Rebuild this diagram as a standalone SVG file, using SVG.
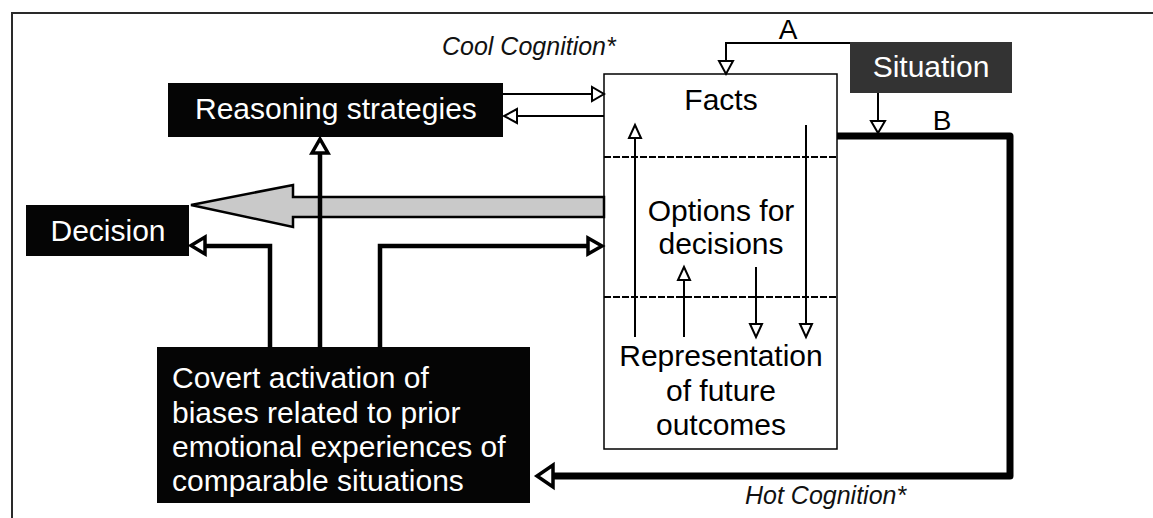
<svg xmlns="http://www.w3.org/2000/svg" width="1153" height="518" viewBox="0 0 1153 518">
<style>
.frame{stroke:#2a2a2a;stroke-width:2;fill:none}
.dark{fill:#050505}
.sit{fill:#333333}
.box{fill:#ffffff;stroke:#000;stroke-width:1.5}
.dash{stroke:#000;stroke-width:2;stroke-dasharray:7 2;fill:none}
.w{font-family:"Liberation Sans",Arial,sans-serif;font-size:30px;fill:#ffffff}
.b{font-family:"Liberation Sans",Arial,sans-serif;font-size:30px;fill:#000000}
.it{font-family:"Liberation Sans",Arial,sans-serif;font-size:25px;font-style:italic;fill:#111}
.ab{font-family:"Liberation Sans",Arial,sans-serif;font-size:28px;fill:#000}
.thin{stroke:#000;stroke-width:2;fill:none}
.med{stroke:#000;stroke-width:4.5;fill:none}
.thick{stroke:#000;stroke-width:7;fill:none;stroke-linejoin:round}
.head{fill:#fff;stroke:#000;stroke-width:2}
.headm{fill:#fff;stroke:#000;stroke-width:3.5}
.big{fill:#c9c9c9;stroke:#000;stroke-width:2.5;stroke-linejoin:miter}
</style>
<rect width="1153" height="518" fill="#ffffff"/>
<path class="frame" d="M12,518 V13 H1153"/>

<g id="node-facts-box">
<rect class="box" x="604" y="74" width="233" height="375"/>
<path class="dash" d="M604,157 H837"/>
<path class="dash" d="M604,297 H837"/>
<text class="b" x="721" y="110" text-anchor="middle">Facts</text>
<text class="b" x="721" y="221" text-anchor="middle">Options for</text>
<text class="b" x="721" y="254" text-anchor="middle">decisions</text>
<text class="b" x="721" y="366" text-anchor="middle">Representation</text>
<text class="b" x="721" y="401" text-anchor="middle">of future</text>
<text class="b" x="721" y="435" text-anchor="middle">outcomes</text>
</g>

<g id="node-reasoning">
<rect class="dark" x="168" y="83" width="335" height="54"/>
<text class="w" x="195" y="119">Reasoning strategies</text>
</g>

<g id="node-decision">
<rect class="dark" x="26" y="205" width="163" height="51"/>
<text class="w" x="108" y="241" text-anchor="middle">Decision</text>
</g>

<g id="node-situation">
<rect class="sit" x="850" y="42" width="162" height="51"/>
<text class="w" x="931" y="77" text-anchor="middle">Situation</text>
</g>

<g id="node-covert">
<rect class="dark" x="157" y="347" width="373" height="156"/>
<text class="w" x="172" y="388">Covert activation of</text>
<text class="w" x="172" y="423">biases related to prior</text>
<text class="w" x="172" y="457">emotional experiences of</text>
<text class="w" x="172" y="491">comparable situations</text>
</g>

<g id="connectors">
<path class="thin" d="M850,43 H726 V62"/>
<polygon class="head" points="719,61 733,61 726,74"/>
<path class="thin" d="M878,93 V122"/>
<polygon class="head" points="871,121 885,121 878,133"/>
<path class="thick" d="M837,136 H1010 V476 H553"/>
<polygon class="headm" points="553,465 553,487 537,476"/>
<path class="thin" d="M503,94 H592"/>
<polygon class="head" points="592,87 592,101 604,94"/>
<path class="thin" d="M604,116 H517"/>
<polygon class="head" points="517,109 517,123 504,116"/>
<polygon class="big" points="604,197 293,197 293,185 191,205 293,227 293,217 604,217"/>
<path class="med" d="M270,347 V246 H205"/>
<polygon class="headm" points="205,237 205,254 191,245.5"/>
<path class="med" d="M320,347 V153"/>
<polygon class="headm" points="312,153 328,153 320,139"/>
<path class="med" d="M380,347 V246 H588"/>
<polygon class="headm" points="588,238 588,254 602,246"/>
<path class="thin" d="M635,337 V138"/>
<polygon class="head" points="629,138 641,138 635,125"/>
<path class="thin" d="M806,125 V324"/>
<polygon class="head" points="800,324 812,324 806,337"/>
<path class="thin" d="M684,337 V280"/>
<polygon class="head" points="678,280 690,280 684,267"/>
<path class="thin" d="M756,267 V324"/>
<polygon class="head" points="750,324 762,324 756,337"/>
<text class="ab" x="788" y="39" text-anchor="middle">A</text>
<text class="ab" x="942" y="130" text-anchor="middle">B</text>
<text class="it" x="442" y="55">Cool Cognition*</text>
<text class="it" x="745" y="504">Hot Cognition*</text>
</g>
</svg>
